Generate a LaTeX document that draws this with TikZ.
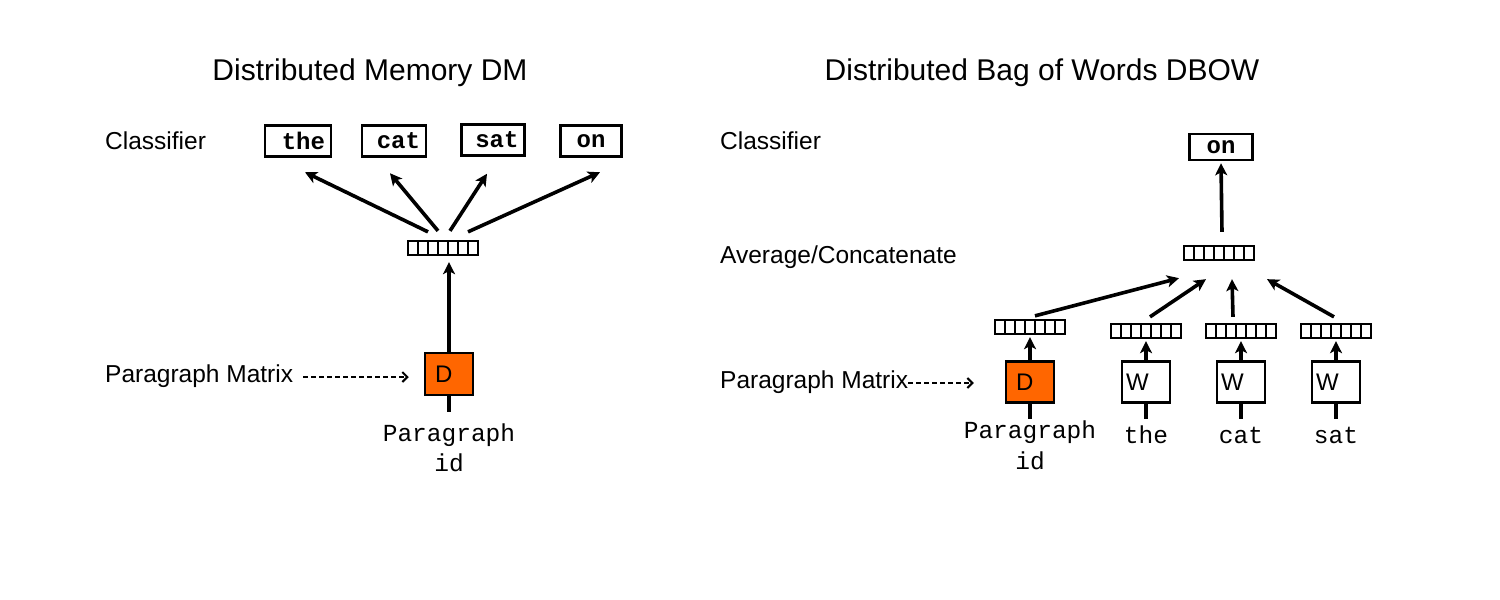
\documentclass[tikz,border=0pt]{standalone}
\usepackage{fontspec}
\setmainfont{Liberation Sans}
\newfontfamily\monofam{Liberation Mono}
\usetikzlibrary{arrows.meta,calc}
\definecolor{dorange}{HTML}{FF6600}
\begin{document}
\begin{tikzpicture}[x=1pt,y=-1pt,
  title/.style={font=\fontsize{30}{34}\selectfont, inner sep=0pt},
  lbl/.style={font=\fontsize{24.5}{28}\selectfont, anchor=west, inner sep=0pt},
  mlbl/.style={font=\monofam\fontsize{24.5}{28}\selectfont, inner sep=0pt},
  wordbox/.style={draw, line width=2.5pt, minimum height=31pt, inner sep=0pt,
     font=\monofam\bfseries\fontsize{24}{26}\selectfont},
  vecst/.style={draw, line width=2.3pt, minimum width=70pt, minimum height=14pt, inner sep=0pt,
     path picture={\foreach \i in {1,...,6}{\draw[line width=2.3pt]
        ([xshift=\i*10pt]path picture bounding box.north west) --
        ([xshift=\i*10pt]path picture bounding box.south west);}}},
  dbox/.style={draw, line width=2.5pt, fill=dorange, minimum width=48pt, minimum height=42pt,
     inner xsep=10pt, inner ysep=0pt, text width=28pt, align=left, font=\fontsize{24}{26}\selectfont},
  wbox/.style={draw, line width=2.5pt, fill=white, minimum width=48pt, minimum height=41pt,
     inner xsep=4pt, inner ysep=0pt, text width=40pt, align=left, font=\fontsize{24}{26}\selectfont},
  arr/.style={line width=3.6pt, -{Stealth[length=12pt,width=12pt,inset=3pt]}},
  stub/.style={line width=3.6pt},
  dasharr/.style={line width=2pt, dash pattern=on 5pt off 3pt, -{Straight Barb[length=5pt,width=10pt]}}
]
\useasboundingbox (0,0) rectangle (1500,600);

% ---------------- Left: DM ----------------
\node[title] (t1) at (370,73) {Distributed Memory DM};
\node[lbl] (cl1) at (105,141) {Classifier};
\node[lbl] (pm1) at (105,376) {Paragraph Matrix};

\node[wordbox, minimum width=66pt, text width=54pt, align=right] (w1) at (298,141) {\raisebox{-3pt}{the}};
\node[wordbox, minimum width=64pt, text width=52pt, align=right] (w2) at (394,141) {\raisebox{-3pt}{cat}};
\node[wordbox, minimum width=63pt, text width=51pt, align=right] (w3) at (493,140) {\raisebox{-3pt}{sat}};
\node[wordbox, minimum width=61pt, text width=49pt, align=center] (w4) at (591,141) {\raisebox{-3pt}{on}};

\node[vecst] (v1) at (443,248) {};

\draw[arr] ($(v1.north)+(-15,-8)$) -- ($(w1.south)+(7,14.5)$);
\draw[arr] ($(v1.north)+(-5,-9)$) -- ($(w2.south)+(-4,15.5)$);
\draw[arr] ($(v1.north)+(7,-9)$) -- ($(w3.south)+(-6,17)$);
\draw[arr] ($(v1.north)+(25,-8)$) -- ($(w4.south)+(9,14.5)$);

\node[dbox] (d1) at (449,374) {D};
\draw[arr] (d1.north) -- ($(d1.north |- v1.south)+(0,6)$);
\draw[stub] (d1.south) -- ++(0,16);
\draw[dasharr, shorten <=10pt, shorten >=15pt] (pm1.east |- 0,377) -- (d1.west |- 0,377);

\node[mlbl] (pid1) at (449,435) {Paragraph};
\node[mlbl] (pid1b) at (449,463) {id};

% ---------------- Right: DBOW ----------------
\node[title] (t2) at (1042,73) {Distributed Bag of Words DBOW};
\node[lbl] (cl2) at (720,141) {Classifier};
\node[lbl] (ac2) at (720,257) {Average/Concatenate};
\node[lbl] (pm2) at (720,382) {Paragraph Matrix};

\node[wordbox, minimum width=63pt, minimum height=26pt, text width=51pt, align=center] (on2) at (1221,147) {\raisebox{-2pt}{on}};
\node[vecst] (tv) at (1219,253) {};
\draw[arr] ($(tv.north)+(3,-13)$) -- ($(on2.south)+(0,2)$);

\node[vecst] (dv) at (1030,327) {};
\node[vecst] (wv1) at (1146,331) {};
\node[vecst] (wv2) at (1241,331) {};
\node[vecst] (wv3) at (1336,331) {};

\node[dbox, minimum height=41pt] (d2) at (1030,382) {D};
\node[wbox] (wb1) at (1146,382) {W};
\node[wbox] (wb2) at (1241,382) {W};
\node[wbox] (wb3) at (1336,382) {W};

\draw[arr] (d2.north) -- ($(dv.south)+(0,2)$);
\draw[arr] (wb1.north) -- ($(wv1.south)+(0,2)$);
\draw[arr] (wb2.north) -- ($(wv2.south)+(0,2)$);
\draw[arr] (wb3.north) -- ($(wv3.south)+(0,2)$);

\draw[stub] (d2.south) -- ++(0,15);
\draw[stub] (wb1.south) -- ++(0,15);
\draw[stub] (wb2.south) -- ++(0,15);
\draw[stub] (wb3.south) -- ++(0,15);

\draw[arr] ($(dv.north)+(5,-3)$) -- ($(tv.south)+(-40,17)$);
\draw[arr] ($(wv1.north)+(4,-6)$) -- ($(tv.south)+(-13,18)$);
\draw[arr] ($(wv2.north)+(-8,-6)$) -- ($(tv.south)+(13,18)$);
\draw[arr] ($(wv3.north)+(-2,-6)$) -- ($(tv.south)+(48,18)$);

\draw[dasharr, shorten >=31pt] (pm2.east |- 0,383) -- (d2.west |- 0,383);

\node[mlbl] (pid2) at (1030,432) {Paragraph};
\node[mlbl] (pid2b) at (1030,461) {id};
\node[mlbl] (lt) at (1146,435) {the};
\node[mlbl] (lc) at (1241,435) {cat};
\node[mlbl] (ls) at (1336,435) {sat};
\end{tikzpicture}
\end{document}
